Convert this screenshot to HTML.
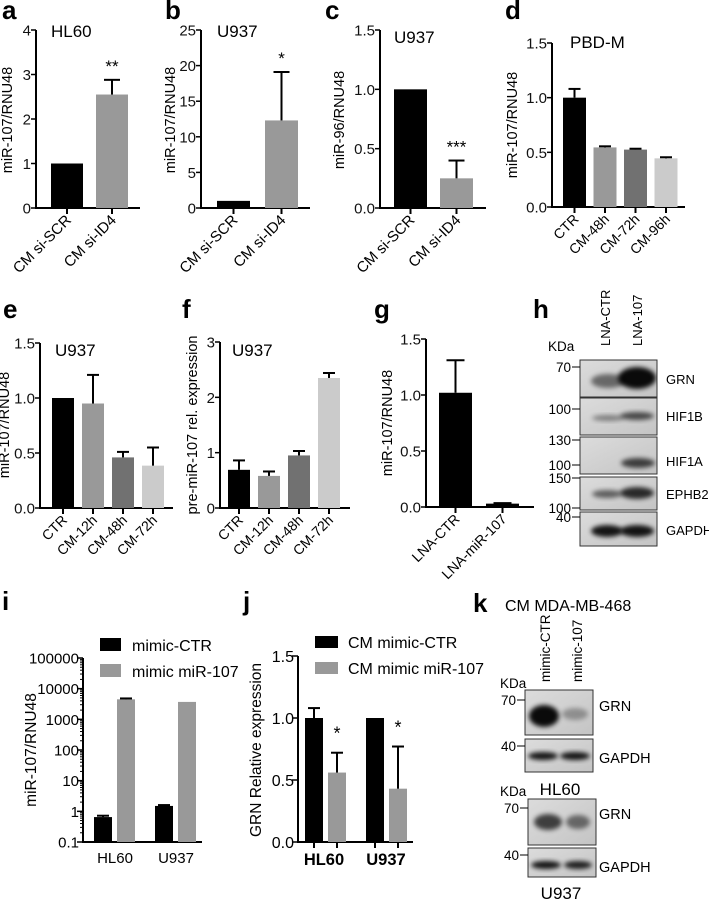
<!DOCTYPE html>
<html><head><meta charset="utf-8"><style>
html,body{margin:0;padding:0;background:#fff;}
svg{display:block;font-family:"Liberation Sans",sans-serif;}
</style></head><body>
<svg id="fig" width="709" height="900" viewBox="0 0 709 900" xmlns="http://www.w3.org/2000/svg">
<defs>
<filter id="blur2" x="-50%" y="-50%" width="200%" height="200%"><feGaussianBlur stdDeviation="2.5"/></filter>
<linearGradient id="bg1" x1="0" y1="0" x2="1" y2="1"><stop offset="0" stop-color="#dcdcdc"/><stop offset="1" stop-color="#c4c4c4"/></linearGradient>
</defs>
<g id="root"></g>
</svg>
<script>
// ---- data ----
const catsA = ["CM si-SCR","CM si-ID4"];
const valsA = [1.0, 2.55];
const errA = [null, 2.88];
const ticksA = [0,1,2,3,4];
const valsB = [1.0, 12.3];
const errB = [null, 19.1];
const ticksB = [0,5,10,15,20,25];
const valsC = [1.0, 0.25];
const errC = [null, 0.40];
const ticksC = [0,0.5,1.0,1.5];
const catsD = ["CTR","CM-48h","CM-72h","CM-96h"];
const valsD = [1.0, 0.545, 0.525, 0.445];
const errD = [1.08, 0.555, 0.533, 0.455];
const ticksD = [0,0.5,1.0,1.5];
const catsE = ["CTR","CM-12h","CM-48h","CM-72h"];
const valsE = [1.0, 0.95, 0.46, 0.385];
const errE = [null, 1.21, 0.51, 0.55];
const catsF = ["CTR","CM-12h","CM-48h","CM-72h"];
const valsF = [0.69, 0.58, 0.95, 2.35];
const errF = [0.86, 0.66, 1.03, 2.44];
const ticksF = [0,1,2,3];
const catsG = ["LNA-CTR","LNA-miR-107"];
const valsG = [1.02, 0.03];
const errG = [1.31, 0.035];
const groupsI = ["HL60","U937"];
const valsICtr = [0.65, 1.5];
const valsIMimic = [4500, 3700];
const errICtr = [0.72, 1.6];
const errIMimic = [4800, null];
const ticksI = [0.1,1,10,100,1000,10000,100000];
const tickLabelsI = ["0.1","1","10","100","1000","10000","100000"];
const groupsJ = ["HL60","U937"];
const valsJCtr = [1.0, 1.0];
const valsJMimic = [0.56, 0.43];
const errJCtr = [1.08, null];
const errJMimic = [0.72, 0.77];

const NS="http://www.w3.org/2000/svg";
const root=document.getElementById('root');
function mk(tag,attrs,parent,text){
  const e=document.createElementNS(NS,tag);
  for(const k in attrs)e.setAttribute(k,attrs[k]);
  if(text!==undefined)e.textContent=text;
  (parent||root).appendChild(e);return e;
}
function fmt(v,dec){return dec?v.toFixed(1):String(v);}

function letter(t,x,y){
  const e=mk('text',{x:x,y:y,'font-size':26,'font-weight':'bold'},root,t);
  
  
}

function barChart(o){
  const g=mk('g',{});
  
  
  const ys=v=>o.yBot-(v-o.min)/(o.max-o.min)*(o.yBot-o.yTop);
  const ya=mk('line',{x1:o.ax,y1:o.yTop,x2:o.ax,y2:o.yBot+1,stroke:'#000','stroke-width':2},g);
  
  
  const xa=mk('line',{x1:o.ax-1,y1:o.yBot,x2:o.xEnd,y2:o.yBot,stroke:'#000','stroke-width':2},g);
  
  
  o.ticks.forEach(t=>{
    const y=ys(t);
    mk('line',{x1:o.ax-5,y1:y,x2:o.ax,y2:y,stroke:'#000','stroke-width':1.5},g);
    const tl=mk('text',{x:o.ax-5,y:y+5.5,'font-size':15,'text-anchor':'end',fill:'#111'},g,fmt(t,o.dec));
    
    
  });
  const yl=mk('text',{x:0,y:0,'font-size':o.ylfs||14.5,'text-anchor':'middle',transform:`translate(${o.ylx},${o.ylY}) rotate(-90)`},g,o.ylabel);
  
  
  if(o.title){
    const tt=mk('text',{x:o.titleX,y:o.titleY,'font-size':17},g,o.title);
    
    
  }
  o.vals.forEach((v,i)=>{
    const x=o.bx+i*o.step, cx=x+o.bw/2;
    const r=mk('rect',{x:x,y:ys(v),width:o.bw,height:o.yBot-ys(v),fill:o.colors[i]},g);
    
    
    const e=o.errs[i];
    if(e!=null){
      mk('line',{x1:cx,y1:ys(v),x2:cx,y2:ys(e),stroke:'#000','stroke-width':2},g);
      mk('line',{x1:cx-o.cap,y1:ys(e),x2:cx+o.cap,y2:ys(e),stroke:'#000','stroke-width':2},g);
    }
    mk('line',{x1:cx,y1:o.yBot,x2:cx,y2:o.yBot+6,stroke:'#000','stroke-width':2},g);
    const lab=mk('text',{x:0,y:0,'font-size':o.xfs||15,'text-anchor':'end',transform:`translate(${cx+5},${o.yBot+13}) rotate(-45)`},g,o.cats[i]);
    
    
    if(o.stars&&o.stars[i]){
      const s=mk('text',{x:cx,y:ys(e!=null?e:v)-8,'font-size':17,'text-anchor':'middle'},g,o.stars[i]);
      
      
    }
  });
}

const GR='#999', DG='#717171', LG='#cbcbcb';
letter('a',2,19);
barChart({name:'chart-a',ax:36,yTop:30,yBot:208,xEnd:140,min:0,max:4,ticks:ticksA,
  ylabel:'miR-107/RNU48',ylx:12,ylY:120,title:'HL60',titleX:51,titleY:37,
  vals:valsA,errs:errA,cats:catsA,bx:51,step:45,bw:32,colors:['#000',GR],cap:8,stars:[null,'**']});
letter('b',165,19);
barChart({name:'chart-b',ax:201,yTop:30,yBot:208,xEnd:310,min:0,max:25,ticks:ticksB,
  ylabel:'miR-107/RNU48',ylx:175,ylY:120,title:'U937',titleX:217,titleY:37,
  vals:valsB,errs:errB,cats:catsA,bx:217,step:48,bw:33,colors:['#000',GR],cap:8,stars:[null,'*']});
letter('c',325,19);
barChart({name:'chart-c',ax:380,yTop:30,yBot:208,xEnd:486,min:0,max:1.5,ticks:ticksC,dec:true,
  ylabel:'miR-96/RNU48',ylx:344,ylY:120,title:'U937',titleX:394,titleY:43,
  vals:valsC,errs:errC,cats:catsA,bx:394,step:46,bw:33,colors:['#000',GR],cap:8,stars:[null,'***']});
letter('d',505,19);
barChart({name:'chart-d',ax:552,yTop:43,yBot:207,xEnd:685,min:0,max:1.5,ticks:ticksD,dec:true,
  ylabel:'miR-107/RNU48',ylx:517,ylY:125,title:'PBD-M',titleX:570,titleY:48,
  vals:valsD,errs:errD,cats:catsD,bx:563,step:30.5,bw:23,colors:['#000',GR,DG,LG],cap:6,xfs:14});
letter('e',3,318);
barChart({name:'chart-e',ax:40,yTop:343,yBot:508,xEnd:173,min:0,max:1.5,ticks:ticksD,dec:true,
  ylabel:'miR-107/RNU48',ylx:9,ylY:425,title:'U937',titleX:55,titleY:356,
  vals:valsE,errs:errE,cats:catsE,bx:52,step:30,bw:22,colors:['#000',GR,DG,LG],cap:6,xfs:14});
letter('f',182,318);
barChart({name:'chart-f',ax:220,yTop:342,yBot:508,xEnd:350,min:0,max:3,ticks:ticksF,
  ylabel:'pre-miR-107 rel. expression',ylx:197,ylY:425,title:'U937',titleX:232,titleY:356,
  vals:valsF,errs:errF,cats:catsF,bx:228,step:30,bw:22,colors:['#000',GR,DG,LG],cap:6,xfs:14});
letter('g',374,318);
barChart({name:'chart-g',ax:426,yTop:339,yBot:507,xEnd:534,min:0,max:1.5,ticks:ticksD,dec:true,
  ylabel:'miR-107/RNU48',ylx:392,ylY:423,
  vals:valsG,errs:errG,cats:catsG,bx:439,step:47,bw:33,colors:['#000','#000'],cap:9,xfs:14});

// ---- panel i (log) ----
(function(){
  const g=mk('g',{});
  
  
  const ax=83,yTop=658,yBot=842,xEnd=202;
  const ys=v=>yBot-(Math.log10(v)+1)/6*(yBot-yTop);
  mk('line',{x1:ax,y1:yTop,x2:ax,y2:yBot+1,stroke:'#000','stroke-width':2},g);
  mk('line',{x1:ax-1,y1:yBot,x2:xEnd,y2:yBot,stroke:'#000','stroke-width':2},g);
  ticksI.forEach((t,k)=>{
    const y=ys(t);
    mk('line',{x1:ax-6,y1:y,x2:ax,y2:y,stroke:'#000','stroke-width':1.5},g);
    if(k<ticksI.length-1)for(let m=2;m<10;m++){const yy=ys(t*m);mk('line',{x1:ax-3,y1:yy,x2:ax,y2:yy,stroke:'#000','stroke-width':1},g);}
    const tl=mk('text',{x:ax-4,y:y+5.5,'font-size':15,'text-anchor':'end'},g,tickLabelsI[k]);
    
    
  });
  const yl=mk('text',{x:0,y:0,'font-size':15.5,'text-anchor':'middle',transform:'translate(36,750) rotate(-90)'},g,'miR-107/RNU48');
  
  
  const series=[[valsICtr,errICtr,'#000',94],[valsIMimic,errIMimic,GR,117]];
  groupsI.forEach((grp,i)=>{
    series.forEach((s,j)=>{
      const x=s[3]+i*61, v=s[0][i], e=s[1][i], cx=x+9;
      const r=mk('rect',{x:x,y:ys(v),width:18,height:yBot-ys(v),fill:s[2]},g);
      
      
      if(e!=null){mk('line',{x1:cx,y1:ys(v),x2:cx,y2:ys(e),stroke:'#000','stroke-width':2},g);
        mk('line',{x1:cx-6,y1:ys(e),x2:cx+6,y2:ys(e),stroke:'#000','stroke-width':2},g);}
    });
    const t=mk('text',{x:115+i*61,y:863,'font-size':15,'text-anchor':'middle'},g,grp);
    
    
  });
  [['mimic-CTR','#000',638],['mimic miR-107',GR,664]].forEach(l=>{
    const sw=mk('rect',{x:100,y:l[2],width:21,height:13,fill:l[1]},g);
    
    
    const t=mk('text',{x:132,y:l[2]+13,'font-size':16},g,l[0]);
    
    
  });
})();
letter('i',2,610);

// ---- panel j ----
(function(){
  const g=mk('g',{});
  
  
  const ax=298,yTop=656,yBot=842,xEnd=413;
  const ys=v=>yBot-v/1.5*(yBot-yTop);
  mk('line',{x1:ax,y1:yTop,x2:ax,y2:yBot+1,stroke:'#000','stroke-width':2},g);
  mk('line',{x1:ax-1,y1:yBot,x2:xEnd,y2:yBot,stroke:'#000','stroke-width':2},g);
  ticksD.forEach(t=>{const y=ys(t);
    mk('line',{x1:ax-6,y1:y,x2:ax,y2:y,stroke:'#000','stroke-width':1.5},g);
    const tl=mk('text',{x:ax-4,y:y+6,'font-size':16,'text-anchor':'end'},g,t.toFixed(1));
    
    });
  const yl=mk('text',{x:0,y:0,'font-size':15.5,'text-anchor':'middle',transform:'translate(261,750) rotate(-90)'},g,'GRN Relative expression');
  
  
  const series=[[valsJCtr,errJCtr,'#000',305,null],[valsJMimic,errJMimic,GR,328,'*']];
  groupsJ.forEach((grp,i)=>{
    series.forEach((s,j)=>{
      const x=s[3]+i*61, v=s[0][i], e=s[1][i], cx=x+9;
      const r=mk('rect',{x:x,y:ys(v),width:18,height:yBot-ys(v),fill:s[2]},g);
      
      
      if(e!=null){mk('line',{x1:cx,y1:ys(v),x2:cx,y2:ys(e),stroke:'#000','stroke-width':2},g);
        mk('line',{x1:cx-6,y1:ys(e),x2:cx+6,y2:ys(e),stroke:'#000','stroke-width':2},g);}
      mk('line',{x1:cx,y1:yBot,x2:cx,y2:yBot+6,stroke:'#000','stroke-width':2},g);
      if(s[4]){const st=mk('text',{x:cx,y:ys(e)-13,'font-size':18,'text-anchor':'middle'},g,s[4]);
        
        }
    });
    const t=mk('text',{x:324+i*62,y:865,'font-size':16.5,'font-weight':'bold','text-anchor':'middle'},g,grp);
    
    
  });
  [['CM mimic-CTR','#000',636],['CM mimic miR-107',GR,662]].forEach(l=>{
    const sw=mk('rect',{x:315,y:l[2],width:23,height:12,fill:l[1]},g);
    
    
    const t=mk('text',{x:348,y:l[2]+12,'font-size':16},g,l[0]);
    
    
  });
})();
letter('j',243,610);

// ---- blots ----
function strip(name,x,y,w,h,bands){
  const g=mk('g',{});
  
  
  mk('rect',{x:x,y:y,width:w,height:h,fill:'url(#bg1)',stroke:'#333','stroke-width':1},g);
  const cp='c'+Math.round(x)+'_'+Math.round(y);
  const cl=mk('clipPath',{id:cp},g);mk('rect',{x:x,y:y,width:w,height:h},cl);
  const bg=mk('g',{'clip-path':`url(#${cp})`},g);
  bands.forEach(b=>mk('ellipse',{cx:b[0],cy:b[1],rx:b[2],ry:b[3],fill:'#000',opacity:b[4],filter:'url(#blur2)'},bg));
}
function txt(t,x,y,fs,anchor,name,extra){
  const e=mk('text',Object.assign({x:x,y:y,'font-size':fs,'text-anchor':anchor||'start'},extra||{}),root,t);
  
  
  return e;
}
function marker(t,x,y){txt(t,x-9,y+5,13.5,'end','kda-marker');mk('line',{x1:x-8,y1:y,x2:x,y2:y,stroke:'#000','stroke-width':1});}

letter('h',533,318);
txt('KDa',548,351,13.5,'start','kda-label');
txt('LNA-CTR',0,0,13,'start','lane-label',{transform:'translate(610,346) rotate(-90)'});
txt('LNA-107',0,0,13,'start','lane-label',{transform:'translate(642,346) rotate(-90)'});
strip('blot-grn',580,360,77,37,[[608,381,17,7,0.5],[637,378,19,11,0.95]]);
strip('blot-hif1b',580,398,77,37,[[608,418,16,3,0.4],[637,416,17,4,0.65]]);
strip('blot-hif1a',580,437,77,37,[[638,463,17,5,0.7]]);
strip('blot-ephb2',580,477,77,33,[[607,494,15,4,0.55],[637,493,17,6,0.8]]);
strip('blot-gapdh',580,512,77,34,[[607,531,16,6,0.9],[637,531,17,6,0.9]]);
marker('70',580,367);marker('100',580,409);marker('130',580,440);marker('100',580,465);
marker('150',580,478);marker('100',580,508);marker('40',580,517);
[['GRN',384],['HIF1B',421],['HIF1A',466],['EPHB2',499],['GAPDH',535]].forEach(l=>txt(l[0],666,l[1],13,'start','protein-label'));

letter('k',473,612);
txt('CM MDA-MB-468',505,611,16,'start','panel-k-title');
txt('KDa',500,688,13.5,'start','kda-label');
txt('mimic-CTR',0,0,13.5,'start','lane-label',{transform:'translate(550,682) rotate(-90)'});
txt('mimic-107',0,0,13.5,'start','lane-label',{transform:'translate(582,682) rotate(-90)'});
strip('blot-hl60-grn',525,690,68,45,[[544,716,15,11,0.95],[575,714,13,6,0.3]]);
strip('blot-hl60-gapdh',525,739,68,33,[[543,756,15,4,0.9],[575,756,15,4,0.9]]);
txt('HL60',560,795,17,'middle','cell-line-label');
txt('KDa',500,796,13.5,'start','kda-label');
strip('blot-u937-grn',528,799,68,46,[[548,822,14,8,0.7],[578,822,12,7,0.5]]);
strip('blot-u937-gapdh',528,848,68,29,[[546,865,15,4,0.9],[578,865,14,4,0.85]]);
txt('U937',561,899,17,'middle','cell-line-label');
marker('70',525,700);marker('40',525,746);marker('70',528,808);marker('40',528,855);
[['GRN',711],['GAPDH',763]].forEach(l=>txt(l[0],599,l[1],14.5,'start','protein-label'));
[['GRN',819],['GAPDH',872]].forEach(l=>txt(l[0],599,l[1],14.5,'start','protein-label'));
</script>
</body></html>
